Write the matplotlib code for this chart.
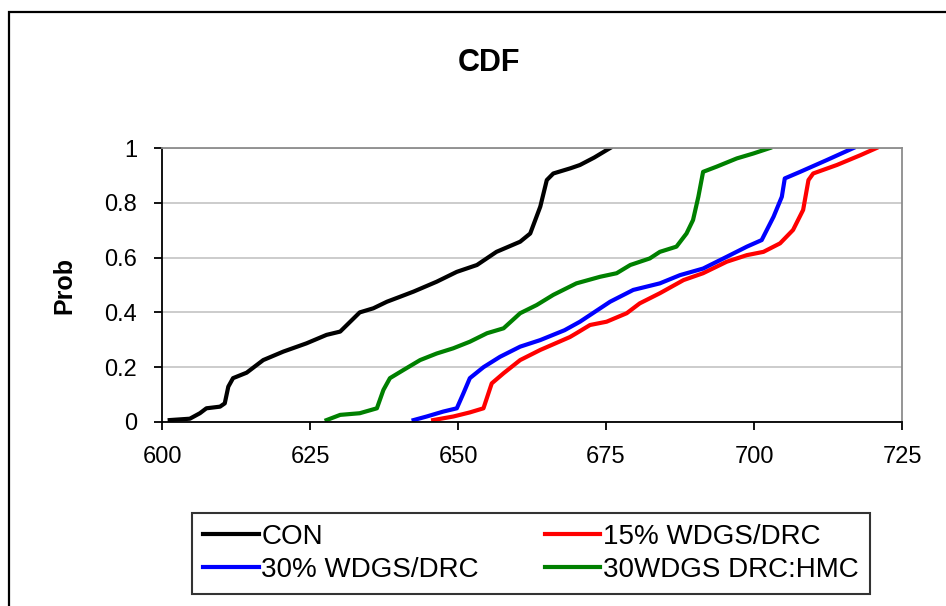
import matplotlib
matplotlib.use("Agg")
import matplotlib.pyplot as plt
from matplotlib.patches import Rectangle

# ---- data ----
con_x = [601.3, 604.7, 606.4, 607.5, 609.8, 610.6, 611.2, 612.0, 614.3, 617.1, 620.5, 624.4,
         627.8, 630.1, 633.4, 635.7, 638.0, 640.2, 642.5, 646.4, 649.8, 653.2, 656.5, 660.5,
         662.2, 663.9, 665.0, 666.1, 669.0, 670.6, 673.0, 675.7]
con_p = [0.007, 0.012, 0.032, 0.050, 0.056, 0.068, 0.129, 0.160, 0.180, 0.226, 0.257, 0.287,
         0.318, 0.330, 0.400, 0.415, 0.439, 0.457, 0.476, 0.512, 0.548, 0.573, 0.621, 0.658,
         0.688, 0.786, 0.883, 0.907, 0.926, 0.938, 0.965, 1.000]

wd15_x = [645.8, 649.2, 652.0, 654.3, 655.7, 657.7, 660.5, 663.9, 668.9, 670.0, 672.3, 675.1,
          678.5, 680.7, 684.1, 688.1, 691.4, 695.4, 698.8, 701.6, 704.4, 706.6, 708.3, 709.2,
          710.0, 714.0, 718.0, 720.7]
wd15_p = [0.007, 0.020, 0.035, 0.050, 0.141, 0.178, 0.226, 0.263, 0.310, 0.324, 0.354, 0.366,
          0.397, 0.433, 0.470, 0.518, 0.543, 0.585, 0.609, 0.621, 0.652, 0.701, 0.774, 0.883,
          0.907, 0.938, 0.974, 1.000]

wd30_x = [642.5, 644.7, 647.5, 649.8, 650.9, 652.0, 654.3, 657.1, 660.5, 663.9, 668.0, 670.6,
          675.7, 679.6, 684.1, 687.5, 691.4, 695.4, 698.8, 701.3, 703.3, 704.7, 705.2, 707.8,
          712.3, 716.8]
wd30_p = [0.007, 0.020, 0.038, 0.050, 0.104, 0.160, 0.200, 0.238, 0.275, 0.299, 0.335, 0.366,
          0.439, 0.482, 0.506, 0.536, 0.560, 0.603, 0.640, 0.664, 0.749, 0.822, 0.889, 0.913,
          0.956, 1.000]

hmc_x = [627.8, 630.1, 633.4, 636.3, 637.4, 638.5, 640.8, 643.6, 646.4, 649.2, 652.0, 654.9,
         657.7, 660.5, 663.3, 666.1, 670.0, 674.0, 676.8, 679.1, 682.4, 684.1, 686.9, 688.6,
         689.7, 690.6, 691.4, 693.7, 697.1, 699.9, 702.7]
hmc_p = [0.007, 0.026, 0.032, 0.050, 0.117, 0.160, 0.190, 0.226, 0.250, 0.269, 0.293, 0.324,
         0.342, 0.397, 0.427, 0.464, 0.506, 0.530, 0.543, 0.573, 0.597, 0.621, 0.640, 0.688,
         0.737, 0.822, 0.913, 0.932, 0.962, 0.980, 1.000]

labels = ["CON", "15% WDGS/DRC", "30% WDGS/DRC", "30WDGS DRC:HMC"]
x_ticks = [600, 625, 650, 675, 700, 725]
y_ticks = [0, 0.2, 0.4, 0.6, 0.8, 1]
y_ticklabels = ["0", "0.2", "0.4", "0.6", "0.8", "1"]

plt.rcParams['font.family'] = ['Liberation Sans', 'DejaVu Sans']

fig = plt.figure(figsize=(9.46, 6.06), dpi=100)
fig.patch.set_facecolor('white')

# outer chart border (right/bottom cut off in reference)
fig.patches.append(Rectangle((9/946, -0.05), 1.2, 1 - 12/606 + 0.05, transform=fig.transFigure,
                             fill=False, edgecolor='black', linewidth=1.6, zorder=0))

ax = fig.add_axes([162/946, 1 - 422/606, 740/946, 274/606])

l_con, = ax.plot(con_x, con_p, color='black', lw=3.0, solid_joinstyle='round')
l_15, = ax.plot(wd15_x, wd15_p, color='#FF0000', lw=3.0, solid_joinstyle='round')
l_30, = ax.plot(wd30_x, wd30_p, color='#0000FF', lw=3.0, solid_joinstyle='round')
l_hmc, = ax.plot(hmc_x, hmc_p, color='#008000', lw=3.0, solid_joinstyle='round')

ax.set_xlim(600, 725)
ax.set_ylim(0, 1)
ax.set_xticks(x_ticks)
ax.set_xticklabels([str(t) for t in x_ticks])
ax.set_yticks(y_ticks)
ax.set_yticklabels(y_ticklabels)
ax.yaxis.grid(True, color='#C8C8C8', linewidth=1.3)
ax.set_axisbelow(True)

for s in ['top', 'right']:
    ax.spines[s].set_color('#8C8C8C')
    ax.spines[s].set_linewidth(1.3)
for s in ['left', 'bottom']:
    ax.spines[s].set_color('black')
    ax.spines[s].set_linewidth(1.3)

ax.tick_params(axis='both', direction='out', length=6, width=1.3, labelsize=17, colors='black')
ax.tick_params(axis='x', pad=11)
ax.tick_params(axis='y', pad=12)

ax.set_ylabel("Prob", fontsize=18, fontweight='bold', labelpad=20)
fig.text(489/946, 1 - 63/606, "CDF", fontsize=22, fontweight='bold', ha='center', va='center')

handles = [l_con, l_30, l_15, l_hmc]
hlabels = [labels[0], labels[2], labels[1], labels[3]]
leg = fig.legend(handles, hlabels, ncol=2, loc='lower left',
                 bbox_to_anchor=(192/946, 1 - 594/606, (870 - 192)/946, (594 - 512)/606),
                 mode='expand', fontsize=20, frameon=True, fancybox=False,
                 edgecolor='black', handlelength=2.0, handletextpad=0.1,
                 borderaxespad=0, labelspacing=0.25, columnspacing=1.0, borderpad=0.4)
leg.get_frame().set_linewidth(1.5)

fig.savefig("out.png", dpi=100, facecolor='white')
